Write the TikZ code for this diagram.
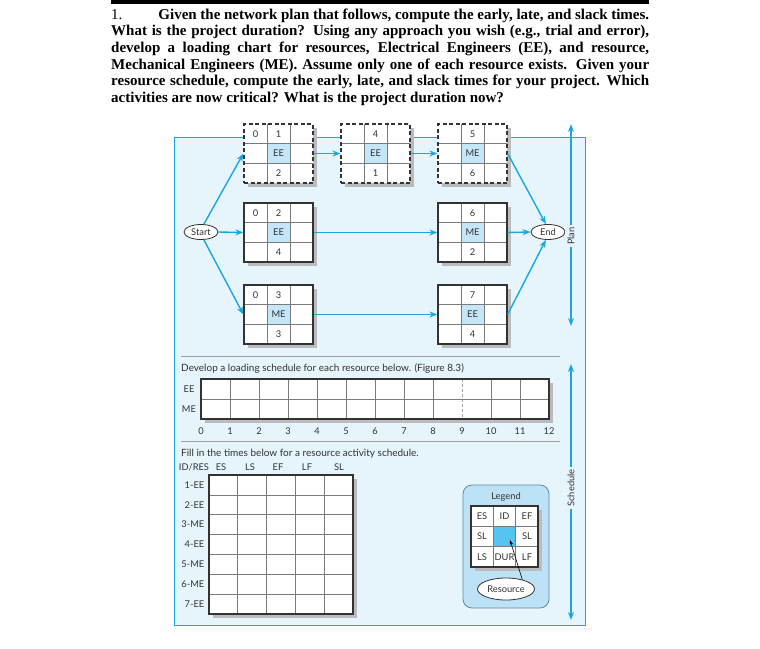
\documentclass[tikz,border=0pt]{standalone}
\usepackage{fontspec}
\setmainfont{Liberation Serif}
\newfontfamily\dfont{Lato}
\usetikzlibrary{arrows.meta,calc,shapes.geometric}
\definecolor{cyanline}{HTML}{1AA7E0}
\definecolor{panelfill}{HTML}{E6F4FC}
\definecolor{cellfill}{HTML}{C4E6F8}
\definecolor{legfill}{HTML}{BDE2F6}
\definecolor{legborder}{HTML}{5F8AA3}
\definecolor{legcell}{HTML}{56C3F0}
\definecolor{boxline}{HTML}{333333}
\definecolor{gridgray}{HTML}{7A7A7A}
\definecolor{shadowgray}{HTML}{BBBBBB}
\definecolor{sepgray}{HTML}{A0A0A0}
\definecolor{textgray}{HTML}{333333}
\tikzset{
 flow/.style={cyanline, line width=1.4pt, -{Stealth[length=8pt,width=6pt]}},
 boxframe/.style={draw=boxline, line width=1.2pt, minimum width=69pt, minimum height=59pt, inner sep=0pt},
 dashframe/.style={dash pattern=on 4pt off 2.5pt},
 solidframe/.style={},
 cellrule/.style={gridgray, line width=0.7pt},
 lbl/.style={font=\dfont\fontsize{9.3}{11}\selectfont, text=textgray, inner sep=0.5pt},
 txt/.style={font=\dfont\fontsize{10}{12}\selectfont, text=textgray, inner sep=0pt},
 term/.style={ellipse, draw=boxline, line width=0.8pt, fill=white, minimum width=34pt, minimum height=15pt, inner sep=0pt, font=\dfont\fontsize{9.3}{11}\selectfont, text=textgray},
 sepline/.style={sepgray, line width=1pt},
 frame/.style={draw=boxline, line width=1.2pt},
}
\newcommand\abox[8]{%
 \fill[shadowgray] (#2+4,#3+4) rectangle (#2+73,#3+63);
 \fill[white] (#2,#3) rectangle (#2+69,#3+59);
 \fill[cellfill] (#2+23,#3+19.67) rectangle (#2+46,#3+39.33);
 \draw[cellrule] (#2+23,#3) -- (#2+23,#3+59) (#2+46,#3) -- (#2+46,#3+59)
   (#2,#3+19.67) -- (#2+69,#3+19.67) (#2,#3+39.33) -- (#2+69,#3+39.33);
 \node[boxframe,#4] (#1) at (#2+34.5,#3+29.5) {};
 \node[lbl] (#1-es) at (#2+11.5,#3+9.8) {#5};
 \node[lbl] (#1-id) at (#2+34.5,#3+9.8) {#6};
 \node[lbl] (#1-res) at (#2+34.5,#3+29.5) {#7};
 \node[lbl] (#1-dur) at (#2+34.5,#3+49.2) {#8};
}
\begin{document}
\begin{tikzpicture}[x=1pt,y=-1pt]
\useasboundingbox (0,0) rectangle (760,648);
% title
\fill[black] (111,0) rectangle (649,3.5);
\node[anchor=north west, inner sep=0pt, align=left, font=\fontsize{15}{16.6}\selectfont\bfseries] (title) at (111,8.5) {%
\makebox[538pt][s]{\mdseries 1.\hspace{36pt}\bfseries Given the network plan that follows, compute the early, late, and slack times.}\\
\makebox[538pt][s]{What is the project duration? Using any approach you wish (e.g., trial and error),}\\
\makebox[538pt][s]{develop a loading chart for resources, Electrical Engineers (EE), and resource,}\\
\makebox[538pt][s]{Mechanical Engineers (ME). Assume only one of each resource exists. Given your}\\
\makebox[538pt][s]{resource schedule, compute the early, late, and slack times for your project. Which}\\
activities are now critical? What is the project duration now?};
% panel
\draw[cyanline, line width=1pt, fill=panelfill] (174,137) rectangle (585,625);
% activity boxes
\abox{t1}{244}{124}{dashframe}{0}{1}{EE}{2}
\abox{t2}{341}{124}{dashframe}{}{4}{EE}{1}
\abox{t3}{438}{124}{dashframe}{}{5}{ME}{6}
\abox{m1}{244}{203}{solidframe}{0}{2}{EE}{4}
\abox{m3}{438}{203}{solidframe}{}{6}{ME}{2}
\abox{b1}{244}{285}{solidframe}{0}{3}{ME}{3}
\abox{b3}{438}{285}{solidframe}{}{7}{EE}{4}
\node[term] (start) at (201,232) {Start};
\node[term] (end) at (548,232) {End};
\draw[flow] (start.70) -- (t1.west);
\draw[flow] (start.east) -- (m1.west);
\draw[flow] (start.-70) -- (b1.west);
\draw[flow] (t1.east) -- (t2.west);
\draw[flow] (t2.east) -- (t3.west);
\draw[flow] (m1.east) -- (m3.west);
\draw[flow] (b1.east) -- (b3.west);
\draw[flow] (m3.east) -- (end.west);
\draw[flow] (t3.east) -- (end.105);
\draw[flow] (b3.east) -- (end.-105);
% right side arrows
\node[lbl, rotate=90, fill=panelfill, inner sep=2.5pt] (plan) at (571,236) {Plan};
\coordinate (plantop) at (571,124);
\coordinate (planbot) at (571,326);
\draw[flow] (plan) -- (plantop);
\draw[flow] (plan) -- (planbot);
\node[lbl, rotate=90, fill=panelfill, inner sep=2.5pt] (sched) at (571,488) {Schedule};
\coordinate (schedtop) at (571,364);
\coordinate (schedbot) at (571,620);
\draw[flow] (sched) -- (schedtop);
\draw[flow] (sched) -- (schedbot);
% separators
\draw[sepline] (181,356) -- (560,356);
\draw[sepline] (181,441) -- (560,441);
% loading chart
\node[txt, anchor=west] (devtxt) at (181,369) {Develop a loading schedule for each resource below. (Figure 8.3)};
\fill[shadowgray] (205,383) rectangle (553,423);
\fill[white] (201,379) rectangle (549,419);
\foreach \k in {1,...,8,10,11} \draw[cellrule] (201+29*\k,379) -- (201+29*\k,419);
\draw[sepgray, line width=0.8pt, dash pattern=on 3pt off 2pt] (462,379) -- (462,419);
\draw[cellrule] (201,399) -- (549,399);
\node[frame, minimum width=348pt, minimum height=40pt, inner sep=0pt] (load) at (375,399) {};
\node[lbl] (lee) at (189,389) {EE};
\node[lbl] (lme) at (189,409) {ME};
\foreach \k in {0,...,12} \node[lbl] (n\k) at (201+29*\k,431) {\k};
% table
\node[txt, anchor=west] (filltxt) at (181,454) {Fill in the times below for a resource activity schedule.};
\node[lbl] (h0) at (194,467) {ID/RES};
\node[lbl] (h1) at (221,467) {ES};
\node[lbl] (h2) at (250,467) {LS};
\node[lbl] (h3) at (278,467) {EF};
\node[lbl] (h4) at (307,467) {LF};
\node[lbl] (h5) at (339,467) {SL};
\fill[shadowgray] (213,479) rectangle (357,618);
\fill[white] (209,475) rectangle (353,614);
\foreach \k in {1,...,4} \draw[cellrule] (209+28.8*\k,475) -- (209+28.8*\k,614);
\foreach \k in {1,...,6} \draw[cellrule] (209,475+19.857*\k) -- (353,475+19.857*\k);
\node[frame, minimum width=144pt, minimum height=139pt, inner sep=0pt] (tab) at (281,544.5) {};
\foreach \lab [count=\i from 0] in {1-EE,2-EE,3-ME,4-EE,5-ME,6-ME,7-EE}
  \node[lbl, anchor=east] (r\i) at (205,475+19.857*\i+9.93) {\lab};
% legend
\draw[legborder, fill=legfill, rounded corners=9pt, line width=0.8pt] (463,485) rectangle (549,608);
\node[lbl] (legtitle) at (506,497) {Legend};
\fill[shadowgray] (475,510) rectangle (542,571);
\fill[white] (471,506) rectangle (538,567);
\fill[legcell] (493.3,526.3) rectangle (515.7,546.7);
\draw[cellrule] (493.3,506) -- (493.3,567) (515.7,506) -- (515.7,567)
  (471,526.3) -- (538,526.3) (471,546.7) -- (538,546.7);
\node[frame, minimum width=67pt, minimum height=61pt, inner sep=0pt] (leg) at (504.5,536.5) {};
\node[lbl] (lg1) at (482,516.5) {ES};
\node[lbl] (lg2) at (504.5,516.5) {ID};
\node[lbl] (lg3) at (527,516.5) {EF};
\node[lbl] (lg4) at (482,536.5) {SL};
\node[lbl] (lg6) at (527,536.5) {SL};
\node[lbl] (lg7) at (482,557) {LS};
\node[lbl] (lg8) at (504.5,557) {DUR};
\node[lbl] (lg9) at (527,557) {LF};
\node[term, minimum width=57pt, minimum height=22pt] (res) at (506,589) {Resource};
\coordinate (legtip) at (510,540);
\draw[black, line width=0.6pt, -{Stealth[length=5pt,width=3.5pt]}] (res.30) -- (legtip);
\end{tikzpicture}
\end{document}
